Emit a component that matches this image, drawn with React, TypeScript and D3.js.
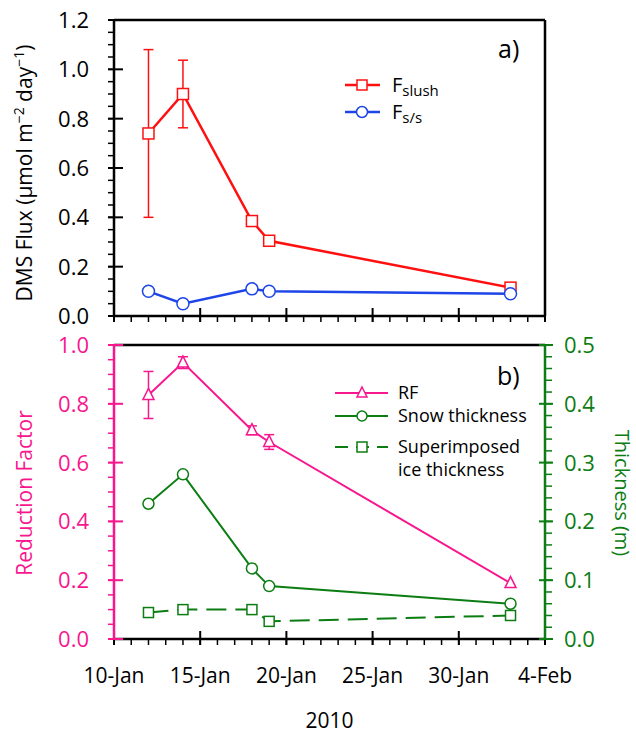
import * as d3 from 'd3';

// sampling dates (2010)
const dates = ['2010-01-12', '2010-01-14', '2010-01-18', '2010-01-19', '2010-02-02'];

// panel a: DMS fluxes
const fSlush = [0.74, 0.9, 0.385, 0.305, 0.115];
const fSlushErr = [0.34, 0.137, 0.02, 0.02, 0];
const fSS = [0.1, 0.05, 0.11, 0.1, 0.09];

// panel b: reduction factor and thicknesses
const rf = [0.83, 0.94, 0.71, 0.67, 0.19];
const rfErr = [0.08, 0.02, 0.015, 0.025, 0];
const snow = [0.23, 0.28, 0.12, 0.09, 0.06];
const superimposed = [0.045, 0.05, 0.05, 0.03, 0.04];

const xTickDates = ['2010-01-10', '2010-01-15', '2010-01-20', '2010-01-25', '2010-01-30', '2010-02-04'];
const yTicksA = [0, 0.2, 0.4, 0.6, 0.8, 1.0, 1.2];
const yTicksB = [0, 0.2, 0.4, 0.6, 0.8, 1.0];
const yTicksRight = [0, 0.1, 0.2, 0.3, 0.4, 0.5];

const RED = '#ff1010';
const BLUE = '#1d45e8';
const PINK = '#f8168e';
const GREEN = '#0c7d12';
const FONT = '"Open Sans", "DejaVu Sans", sans-serif';

const L = 114, R = 545;
const A_TOP = 20, A_BOT = 316;
const B_TOP = 345, B_BOT = 639;

const parse = (s: string) => new Date(s + 'T00:00:00Z');
const fmt = d3.utcFormat('%-d-%b');

export default function App() {
  const x = d3.scaleUtc().domain([parse('2010-01-10'), parse('2010-02-04')]).range([L, R]);
  const yA = d3.scaleLinear().domain([0, 1.2]).range([A_BOT, A_TOP]);
  const yB = d3.scaleLinear().domain([0, 1]).range([B_BOT, B_TOP]);
  const yR = d3.scaleLinear().domain([0, 0.5]).range([B_BOT, B_TOP]);

  const xs = dates.map(parse);
  const minorDays = d3.utcDay.range(parse('2010-01-10'), parse('2010-02-05'));

  const line = (vals: number[], y: d3.ScaleLinear<number, number>) =>
    d3.line<number>().x((_, i) => x(xs[i])).y(v => y(v))(vals) || '';

  const square = (cx: number, cy: number, c: string, k: string, s = 10) => (
    <rect key={k} x={cx - s / 2} y={cy - s / 2} width={s} height={s} fill="white" stroke={c} strokeWidth={1.5} />
  );
  const circle = (cx: number, cy: number, c: string, k: string, r = 5.5) => (
    <circle key={k} cx={cx} cy={cy} r={r} fill="white" stroke={c} strokeWidth={1.5} />
  );
  const triangle = (cx: number, cy: number, c: string, k: string, s = 11) => (
    <path key={k} d={`M${cx},${cy - s * 0.6}L${cx + s / 2},${cy + s * 0.4}L${cx - s / 2},${cy + s * 0.4}Z`} fill="white" stroke={c} strokeWidth={1.5} />
  );
  const errBars = (vals: number[], errs: number[], y: d3.ScaleLinear<number, number>, c: string) =>
    vals.map((v, i) => errs[i] > 0 ? (
      <g key={'e' + i} stroke={c} strokeWidth={1.5}>
        <line x1={x(xs[i])} x2={x(xs[i])} y1={y(v - errs[i])} y2={y(v + errs[i])} />
        <line x1={x(xs[i]) - 5} x2={x(xs[i]) + 5} y1={y(v - errs[i])} y2={y(v - errs[i])} />
        <line x1={x(xs[i]) - 5} x2={x(xs[i]) + 5} y1={y(v + errs[i])} y2={y(v + errs[i])} />
      </g>
    ) : null);

  const xAxis = (yb: number) => (
    <g stroke="black">
      {minorDays.map((d, i) => <line key={'m' + i} x1={x(d)} x2={x(d)} y1={yb} y2={yb + 6} strokeWidth={1.5} />)}
      {xTickDates.map(s => <line key={s} x1={x(parse(s))} x2={x(parse(s))} y1={yb - 8} y2={yb + 6} strokeWidth={2} />)}
      <line x1={L} x2={R} y1={yb} y2={yb} strokeWidth={2.5} />
    </g>
  );

  const yAxisLeft = (y: d3.ScaleLinear<number, number>, ticks: number[], max: number, c: string) => (
    <g stroke={c}>
      {d3.range(0, max + 1e-6, 0.05).map((v, i) => <line key={'m' + i} x1={L - 6} x2={L} y1={y(v)} y2={y(v)} strokeWidth={1.5} />)}
      {ticks.map(v => <line key={v} x1={L - 6} x2={L + 9} y1={y(v)} y2={y(v)} strokeWidth={2} />)}
      <line x1={L} x2={L} y1={y(0)} y2={y(max)} strokeWidth={2.5} />
    </g>
  );

  return (
    <svg width={636} height={734} style={{ position: 'absolute', left: 0, top: 0, background: 'white' }} fontFamily={FONT}>
      {/* ---------- panel a ---------- */}
      <line x1={L} x2={R} y1={A_TOP} y2={A_TOP} stroke="black" strokeWidth={2.5} />
      <line x1={R} x2={R} y1={A_TOP} y2={A_BOT} stroke="black" strokeWidth={2.5} />
      {xAxis(A_BOT)}
      {yAxisLeft(yA, yTicksA, 1.2, 'black')}
      {yTicksA.map(v => (
        <text key={v} x={L - 25} y={yA(v)} dy="0.36em" textAnchor="end" fontSize={22}>{v.toFixed(1)}</text>
      ))}
      <text transform={`translate(32,${(A_TOP + A_BOT) / 2 + 5}) rotate(-90)`} textAnchor="middle" fontSize={21}>
        DMS Flux (µmol m<tspan fontSize={14} dy={-8}>−2</tspan><tspan dy={8}> day</tspan><tspan fontSize={14} dy={-8}>−1</tspan><tspan dy={8}>)</tspan>
      </text>

      {errBars(fSlush, fSlushErr, yA, RED)}
      <path d={line(fSlush, yA)} fill="none" stroke={RED} strokeWidth={2.5} />
      <path d={line(fSS, yA)} fill="none" stroke={BLUE} strokeWidth={2.5} />
      {fSlush.map((v, i) => square(x(xs[i]), yA(v), RED, 'sq' + i, 11))}
      {fSS.map((v, i) => circle(x(xs[i]), yA(v), BLUE, 'c' + i, 6))}

      <text x={498} y={58} fontSize={25}>a)</text>
      <g>
        <line x1={345} x2={380} y1={85} y2={85} stroke={RED} strokeWidth={2.5} />
        {square(362, 85, RED, 'lsq', 10)}
        <text x={392} y={92} fontSize={20}>F<tspan fontSize={15} dy={4}>slush</tspan></text>
        <line x1={345} x2={380} y1={112} y2={112} stroke={BLUE} strokeWidth={2.5} />
        {circle(362, 112, BLUE, 'lc', 5.5)}
        <text x={392} y={119} fontSize={20}>F<tspan fontSize={15} dy={4}>s/s</tspan></text>
      </g>

      {/* ---------- panel b ---------- */}
      <line x1={L} x2={R} y1={B_TOP} y2={B_TOP} stroke="black" strokeWidth={2.5} />
      {xAxis(B_BOT)}
      {yAxisLeft(yB, yTicksB, 1.0, PINK)}
      <g stroke={GREEN}>
        {d3.range(0, 0.5001, 0.02).map((v, i) => <line key={'rm' + i} x1={R} x2={R + 7} y1={yR(v)} y2={yR(v)} strokeWidth={1.5} />)}
        {yTicksRight.map(v => <line key={v} x1={R - 6} x2={R + 8} y1={yR(v)} y2={yR(v)} strokeWidth={2} />)}
        <line x1={R} x2={R} y1={B_TOP} y2={B_BOT} strokeWidth={2.5} />
      </g>
      {yTicksB.map(v => (
        <text key={v} x={L - 25} y={yB(v)} dy="0.36em" textAnchor="end" fontSize={22} fill={PINK}>{v.toFixed(1)}</text>
      ))}
      {yTicksRight.map(v => (
        <text key={v} x={R + 19} y={yR(v)} dy="0.36em" textAnchor="start" fontSize={22} fill={GREEN}>{v.toFixed(1)}</text>
      ))}
      <text transform={`translate(32,${(B_TOP + B_BOT) / 2 + 1}) rotate(-90)`} textAnchor="middle" fontSize={21} fill={PINK}>Reduction Factor</text>
      <text transform={`translate(615,${(B_TOP + B_BOT) / 2 + 1}) rotate(90)`} textAnchor="middle" fontSize={20} fill={GREEN}>Thickness (m)</text>

      {xTickDates.map(s => (
        <text key={s} x={x(parse(s))} y={683} textAnchor="middle" fontSize={21}>{fmt(parse(s))}</text>
      ))}
      <text x={(L + R) / 2} y={728} textAnchor="middle" fontSize={21}>2010</text>

      {errBars(rf, rfErr, yB, PINK)}
      <path d={line(rf, yB)} fill="none" stroke={PINK} strokeWidth={2} />
      <path d={line(snow, yR)} fill="none" stroke={GREEN} strokeWidth={2} />
      <path d={line(superimposed, yR)} fill="none" stroke={GREEN} strokeWidth={2} strokeDasharray="20,9" />
      {rf.map((v, i) => triangle(x(xs[i]), yB(v), PINK, 't' + i))}
      {snow.map((v, i) => circle(x(xs[i]), yR(v), GREEN, 'sc' + i, 5.5))}
      {superimposed.map((v, i) => square(x(xs[i]), yR(v), GREEN, 'ss' + i, 10))}

      <text x={497} y={385} fontSize={25}>b)</text>
      <g fontSize={18}>
        <line x1={335} x2={388} y1={393} y2={393} stroke={PINK} strokeWidth={2} />
        {triangle(362, 393, PINK, 'lt', 10)}
        <text x={398} y={399}>RF</text>
        <line x1={335} x2={388} y1={416} y2={416} stroke={GREEN} strokeWidth={2} />
        {circle(362, 416, GREEN, 'lsc', 5)}
        <text x={398} y={422}>Snow thickness</text>
        <line x1={335} x2={388} y1={447} y2={447} stroke={GREEN} strokeWidth={2} strokeDasharray="13,8" />
        {square(362, 447, GREEN, 'lss', 10)}
        <text x={398} y={453}>Superimposed</text>
        <text x={398} y={476}>ice thickness</text>
      </g>
    </svg>
  );
}
